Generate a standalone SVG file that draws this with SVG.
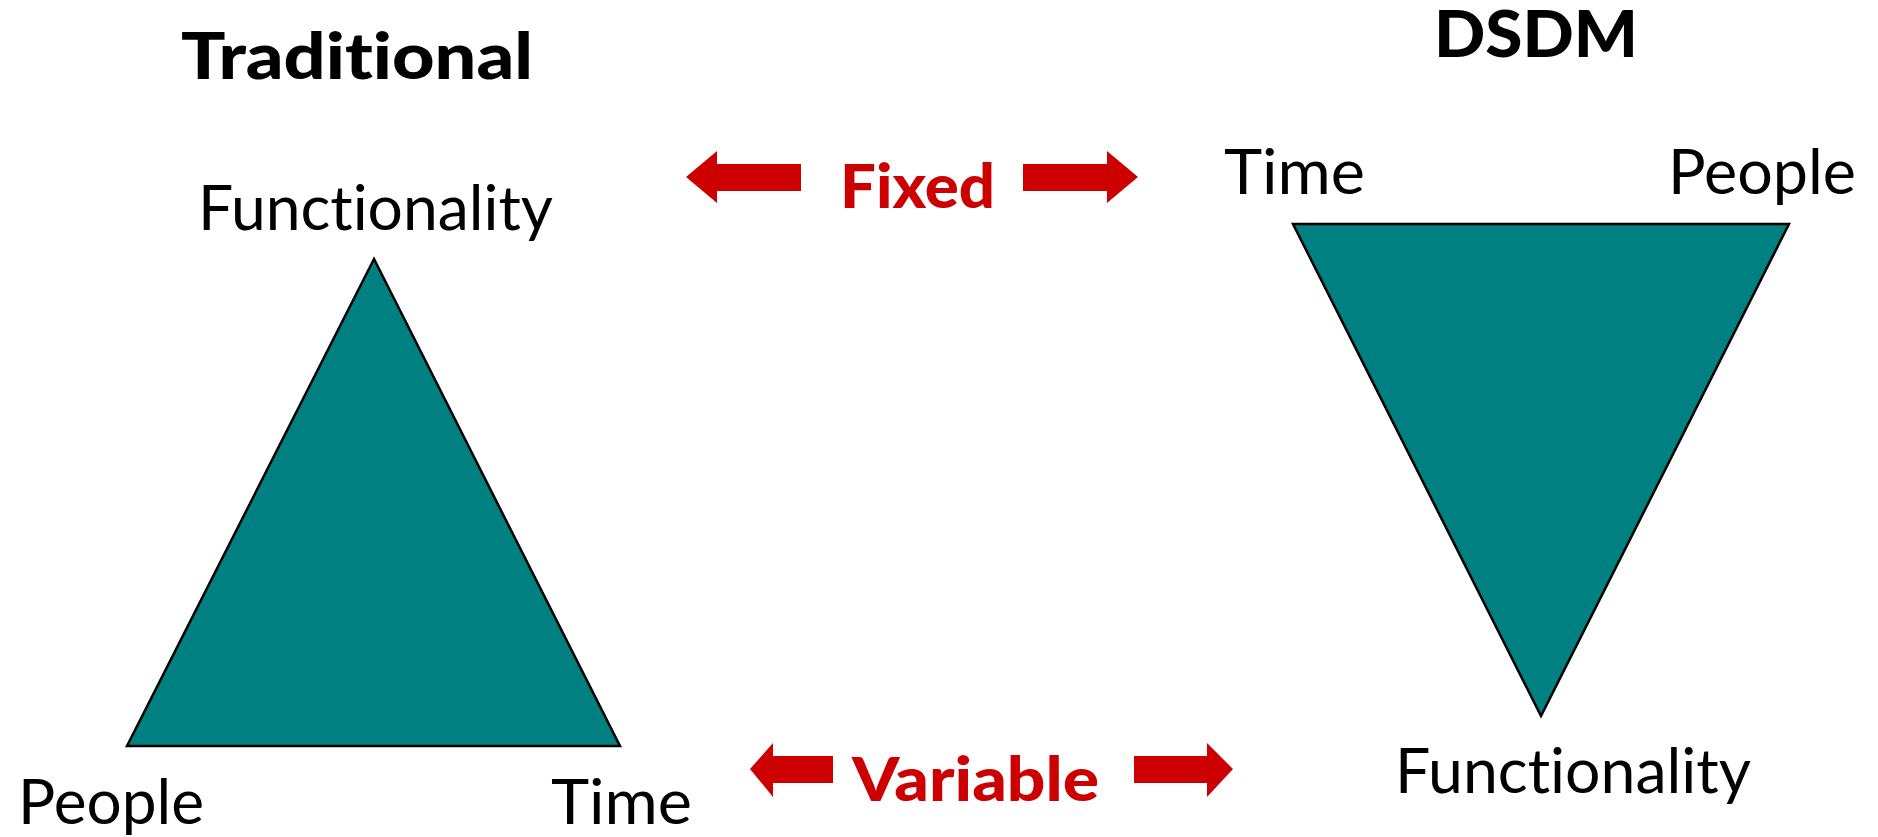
<svg xmlns="http://www.w3.org/2000/svg" width="1878" height="837" viewBox="0 0 1878 837">
  <style>
    text { font-family: Lato, "Open Sans", "Liberation Sans", sans-serif; font-variant-ligatures: none; }
    .title { font-weight: 900; font-size: 65px; fill: #000; }
    .label { font-weight: 400; font-size: 62px; fill: #000; }
    .tag { font-weight: 900; font-size: 60px; fill: #CC0000; }
    .tri { fill: #008080; stroke: #000; stroke-width: 2.5; stroke-linejoin: miter; }
    .arrow { fill: #CC0000; }
  </style>
  <rect width="1878" height="837" fill="#fff"/>

  <!-- Traditional model -->
  <g id="traditional">
    <text class="title" x="181" y="79" textLength="352" lengthAdjust="spacingAndGlyphs">Traditional</text>
    <polygon class="tri" points="374,259 127,746 620,746"/>
    <text class="label" x="198" y="230" textLength="355" lengthAdjust="spacingAndGlyphs">Functionality</text>
    <text class="label" x="18" y="824" textLength="186" lengthAdjust="spacingAndGlyphs">People</text>
    <text class="label" x="551" y="824" textLength="141" lengthAdjust="spacingAndGlyphs">Time</text>
  </g>

  <!-- DSDM model -->
  <g id="dsdm">
    <text class="title" x="1434" y="57" textLength="204" lengthAdjust="spacingAndGlyphs">DSDM</text>
    <polygon class="tri" points="1293,224 1789,224 1541,716"/>
    <text class="label" x="1224" y="194" textLength="141" lengthAdjust="spacingAndGlyphs">Time</text>
    <text class="label" x="1668" y="194" textLength="188" lengthAdjust="spacingAndGlyphs">People</text>
    <text class="label" x="1395" y="793" textLength="356" lengthAdjust="spacingAndGlyphs">Functionality</text>
  </g>

  <!-- Fixed / Variable indicators -->
  <g id="connectors">
    <g id="fixed">
      <polygon class="arrow" points="686,177 717,151 717,164 801,164 801,191 717,191 717,203"/>
      <polygon class="arrow" points="1138,177 1107,151 1107,164 1023,164 1023,191 1107,191 1107,203"/>
      <text class="tag" x="840" y="208" textLength="155" lengthAdjust="spacingAndGlyphs">Fixed</text>
    </g>
    <g id="variable">
      <polygon class="arrow" points="750,769 773,743 773,756 833,756 833,783 773,783 773,797"/>
      <polygon class="arrow" points="1233,769 1207,743 1207,756 1134,756 1134,783 1207,783 1207,797"/>
      <text class="tag" x="852" y="801" textLength="247" lengthAdjust="spacingAndGlyphs">Variable</text>
    </g>
  </g>
</svg>
